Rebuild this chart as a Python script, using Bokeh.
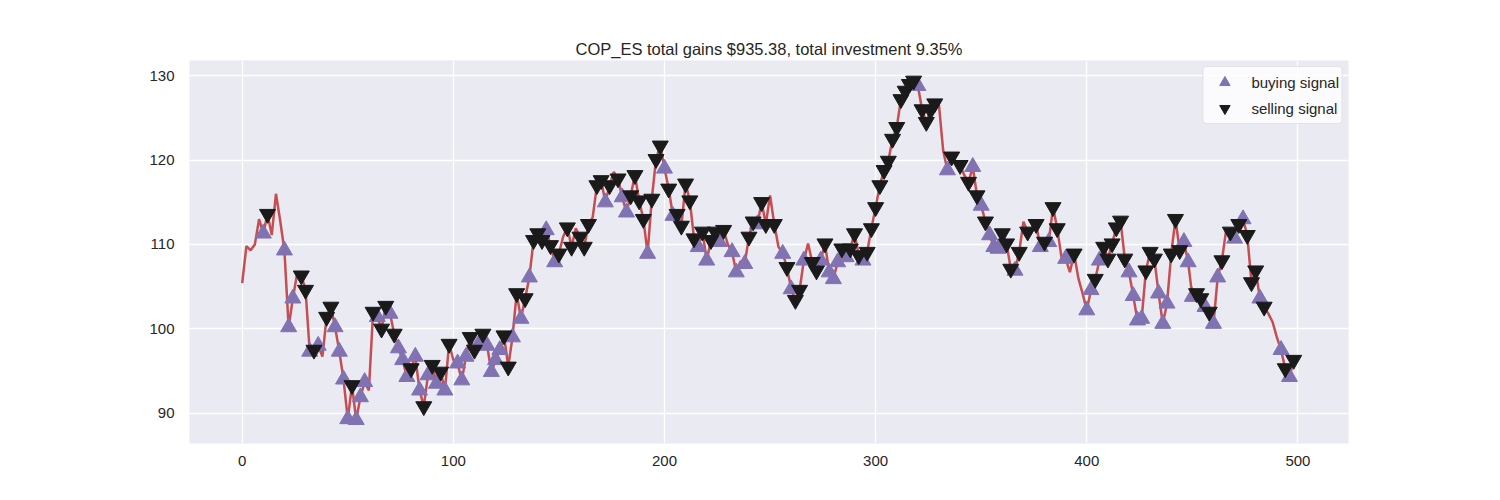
import numpy as np
from bokeh.embed import file_html
from bokeh.models import FixedTicker, Range1d
from bokeh.plotting import figure
from bokeh.resources import INLINE

TITLE = "COP_ES total gains $935.38, total investment 9.35%"

# closing price, every second day (day = 2 * position)
close = [
    105.4, 109.8, 109.3, 110.0, 113.0, 111.3, 113.6, 111.1, 116.0, 112.8,
    109.3, 100.2, 103.6, 106.5, 106.3, 104.6, 97.3, 97.5, 98.0, 96.7,
    101.4, 102.6, 100.2, 97.3, 94.0, 89.3, 93.3, 89.2, 91.9, 93.7,
    92.7, 102.0, 101.4, 100.0, 102.7, 101.8, 99.4, 97.7, 96.3, 94.3,
    95.3, 96.7, 92.7, 90.8, 94.5, 95.7, 93.5, 94.9, 92.7, 98.2,
    96.3, 95.9, 93.9, 96.7, 99.0, 97.5, 98.2, 99.4, 98.0, 94.9,
    96.3, 97.5, 99.2, 95.5, 99.0, 104.2, 101.2, 103.6, 106.1, 110.5,
    111.3, 110.5, 111.7, 109.9, 107.9, 108.9, 110.9, 112.0, 109.7, 111.9,
    110.9, 109.7, 112.4, 113.2, 117.0, 117.6, 115.0, 117.0, 118.6, 117.8,
    115.6, 113.8, 115.8, 118.2, 115.2, 113.0, 108.9, 115.4, 120.1, 121.7,
    119.0, 116.6, 113.4, 113.6, 112.2, 117.2, 115.2, 110.7, 109.7, 111.5,
    108.1, 110.5, 111.5, 110.3, 111.7, 110.0, 109.1, 106.7, 108.0, 107.7,
    110.9, 112.7, 112.4, 115.0, 112.4, 115.8, 112.4, 109.7, 108.9, 107.3,
    104.7, 103.4, 104.6, 108.1, 110.1, 107.9, 106.9, 108.1, 110.1, 106.7,
    105.9, 107.9, 109.5, 108.5, 109.5, 111.3, 108.7, 108.1, 109.1, 111.9,
    114.4, 117.0, 118.8, 119.9, 122.5, 123.9, 127.2, 128.2, 129.0, 129.4,
    128.8, 126.0, 124.5, 125.9, 126.7, 126.5, 121.1, 118.8, 120.4, 119.8,
    119.4, 118.2, 117.4, 119.2, 115.8, 114.6, 112.7, 111.1, 109.7, 109.5,
    111.3, 110.1, 107.1, 106.9, 109.1, 112.7, 111.5, 112.0, 112.4, 109.7,
    110.3, 110.3, 114.4, 111.9, 108.5, 108.3, 106.7, 108.9, 106.0, 104.2,
    102.2, 104.6, 105.9, 108.1, 109.7, 108.3, 110.1, 112.0, 112.8, 108.3,
    106.7, 103.9, 101.0, 101.2, 106.9, 109.1, 108.3, 104.2, 100.6, 103.0,
    108.9, 113.0, 109.3, 110.3, 107.9, 103.8, 104.2, 103.6, 102.6, 102.0,
    100.6, 106.1, 108.1, 111.7, 111.5, 110.7, 112.4, 113.0, 111.1, 105.5,
    106.9, 103.6, 102.6, 101.8, 100.8, 99.0, 97.5, 95.3, 94.3, 96.3,
]
days = list(range(0, 2 * len(close), 2))

buy_days = [
    10, 20, 22, 24, 32, 36, 44, 46, 48, 50, 54, 56, 58, 64, 70, 74, 76, 78,
    82, 84, 88, 92, 96, 102, 104, 106, 112, 116, 118, 120, 122, 128, 132,
    136, 144, 148, 172, 180, 182, 192, 200, 204, 216, 220, 226, 232, 234,
    238, 244, 256, 260, 266, 274, 278, 280, 282, 286, 294, 320, 334, 346,
    350, 354, 356, 358, 366, 378, 382, 390, 400, 402, 406, 420, 422, 424,
    426, 434, 436, 438, 446, 448, 450, 456, 460, 462, 470, 474, 482, 492, 496,
]
sell_days = [
    12, 28, 30, 34, 40, 42, 52, 62, 66, 68, 72, 80, 86, 90, 94, 98, 108, 110,
    114, 124, 126, 130, 134, 138, 140, 142, 146, 150, 154, 156, 160, 162,
    164, 168, 170, 174, 178, 184, 186, 188, 190, 194, 196, 198, 202, 206,
    208, 210, 212, 214, 218, 222, 224, 228, 240, 242, 246, 248, 252, 258,
    262, 264, 270, 272, 276, 284, 288, 290, 292, 296, 298, 300, 302, 304,
    306, 308, 310, 312, 314, 316, 318, 322, 324, 326, 328, 336, 340, 344,
    348, 352, 360, 362, 364, 368, 372, 376, 380, 384, 386, 394, 404, 408,
    410, 412, 414, 416, 418, 428, 430, 432, 440, 442, 444, 452, 454, 458,
    464, 468, 472, 476, 478, 480, 484, 494, 498,
]

x_ticks = [0, 100, 200, 300, 400, 500]
y_ticks = [90, 100, 110, 120, 130]

FONT = "Liberation Sans"
TEXT = "#262626"

close_arr = np.array(close)
buy_y = close_arr[np.array(buy_days) // 2]
sell_y = close_arr[np.array(sell_days) // 2]

p = figure(width=1484, height=484, output_backend="svg", toolbar_location=None,
           x_range=Range1d(-24.95, 523.95), y_range=Range1d(86.4, 131.8),
           min_border_left=189, min_border_right=136, min_border_top=60,
           min_border_bottom=41, title=TITLE)
p.background_fill_color = "#EAEAF2"
p.border_fill_color = "white"
p.outline_line_color = None

p.title.align = "center"
p.title.text_font = FONT
p.title.text_font_size = "16.5px"
p.title.text_font_style = "normal"
p.title.text_color = TEXT
p.title.standoff = 6

for grid in (p.xgrid, p.ygrid):
    grid.grid_line_color = "white"
    grid.grid_line_width = 1.3
p.xgrid.ticker = FixedTicker(ticks=x_ticks)
p.ygrid.ticker = FixedTicker(ticks=y_ticks)
p.xaxis.ticker = FixedTicker(ticks=x_ticks)
p.yaxis.ticker = FixedTicker(ticks=y_ticks)

for axis in (p.xaxis, p.yaxis):
    axis.axis_line_color = None
    axis.major_tick_line_color = None
    axis.minor_tick_line_color = None
    axis.major_label_text_font = FONT
    axis.major_label_text_font_size = "15px"
    axis.major_label_text_color = TEXT
p.xaxis.major_label_standoff = 6
p.yaxis.major_label_standoff = 9

p.line(days, close, line_color="#C44E52", line_width=2.5)
p.scatter(buy_days, buy_y, marker="triangle", size=16, fill_color="#8172B2",
          line_color="#8172B2", legend_label="buying signal")
p.scatter(sell_days, sell_y, marker="inverted_triangle", size=16, fill_color="#1A1A1A",
          line_color="#1A1A1A", legend_label="selling signal")

p.legend.location = "top_right"
p.legend.margin = 6
p.legend.padding = 2
p.legend.spacing = 0
p.legend.glyph_height = 26
p.legend.glyph_width = 38
p.legend.label_height = 20
p.legend.label_standoff = 8
p.legend.label_text_font = FONT
p.legend.label_text_font_size = "15px"
p.legend.label_text_color = TEXT
p.legend.background_fill_color = "white"
p.legend.background_fill_alpha = 0.8
p.legend.border_line_color = "#CCCCCC"
p.legend.border_radius = 4

open("out.html", "w").write(file_html(p, INLINE))
